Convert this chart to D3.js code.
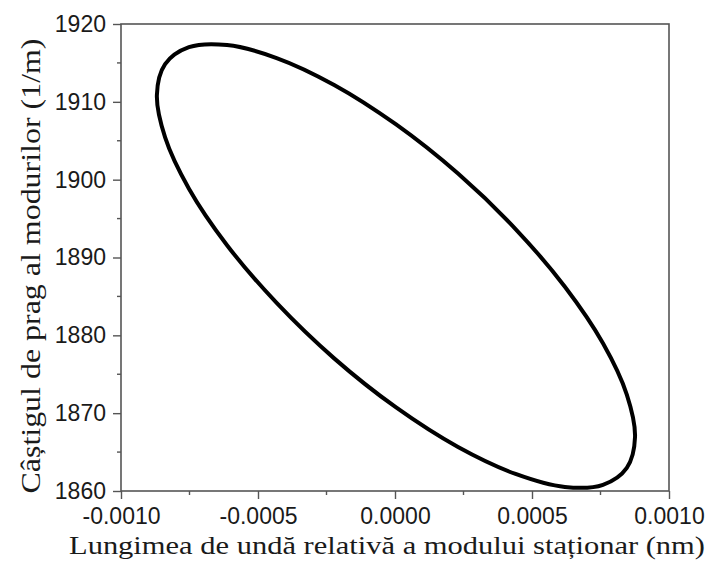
<!DOCTYPE html>
<html>
<head>
<meta charset="utf-8">
<script src="https://cdn.jsdelivr.net/npm/d3@7"></script>
<style>
  body { margin: 0; background: #fff; }
  .tick text { font-family: "Liberation Sans", Arial, sans-serif; font-size: 23px; fill: #1a1a1a; }
  .axis-title { font-family: "Liberation Serif", "Times New Roman", serif; fill: #1a1a1a; }
</style>
</head>
<body>
<svg width="715" height="562"></svg>
<script>
// wavelength offset (x 1e-3 nm) and threshold gain (1/m)
const wavelength = [0.876, 0.846, 0.759, 0.620, 0.440, 0.230, 0.004, -0.222, -0.432, -0.613, -0.752, -0.839,
  -0.869, -0.839, -0.752, -0.613, -0.432, -0.222, 0.004, 0.230, 0.440, 0.620, 0.759, 0.846];
const gain = [1866.94, 1862.98, 1860.80, 1860.52, 1862.19, 1865.65, 1870.73, 1877.04, 1884.16, 1891.58, 1898.84, 1905.43,
  1910.88, 1914.84, 1917.02, 1917.30, 1915.63, 1912.17, 1907.09, 1900.78, 1893.66, 1886.24, 1878.98, 1872.39];

const xTicks = [-0.0010, -0.0005, 0.0000, 0.0005, 0.0010];
const yTicks = [1860, 1870, 1880, 1890, 1900, 1910, 1920];
const xLabel = "Lungimea de undă relativă a modului staționar (nm)";
const yLabel = "Câștigul de prag al modurilor (1/m)";

const svg = d3.select('svg');
const margin = { top: 24, left: 121, right: 46, bottom: 71 };
const width = +svg.attr('width') - margin.left - margin.right;
const height = +svg.attr('height') - margin.top - margin.bottom;

const g = svg.append("g").attr("transform", `translate(${margin.left}, ${margin.top})`);

const x = d3.scaleLinear().domain([-0.001, 0.001]).range([0, width]);
const y = d3.scaleLinear().domain([1860, 1920]).range([height, 0]);

const points = wavelength.map((w, i) => ({ x: w * 1e-3, y: gain[i] }));

// frame
g.append("rect")
    .attr("width", width)
    .attr("height", height)
    .attr("fill", "none")
    .attr("stroke", "#555")
    .attr("stroke-width", 1.6);

// minor ticks
const xMinor = [-0.00075, -0.00025, 0.00025, 0.00075];
const yMinor = [1865, 1875, 1885, 1895, 1905, 1915];
g.selectAll(".xminor").data(xMinor).enter().append("line")
    .attr("x1", d => x(d)).attr("x2", d => x(d))
    .attr("y1", height).attr("y2", height + 4)
    .attr("stroke", "#555").attr("stroke-width", 1.4);
g.selectAll(".yminor").data(yMinor).enter().append("line")
    .attr("x1", -4).attr("x2", 0)
    .attr("y1", d => y(d)).attr("y2", d => y(d))
    .attr("stroke", "#555").attr("stroke-width", 1.4);

const fmtX = d => d3.format(".4f")(d).replace("\u2212", "-");

function customXAxis(sel) {
    sel.call(d3.axisBottom(x).tickValues(xTicks).tickSize(8).tickPadding(9).tickFormat(fmtX));
    sel.select(".domain").remove();
    sel.selectAll(".tick line").attr("stroke", "#555").attr("stroke-width", 1.4);
}
function customYAxis(sel) {
    sel.call(d3.axisLeft(y).tickValues(yTicks).tickSize(8).tickPadding(7).tickFormat(d3.format("d")));
    sel.select(".domain").remove();
    sel.selectAll(".tick line").attr("stroke", "#555").attr("stroke-width", 1.4);
}

g.append("g")
    .attr("transform", "translate(0," + height + ")")
    .call(customXAxis);
g.append("g").call(customYAxis);

const line = d3.line()
    .curve(d3.curveCatmullRomClosed.alpha(0.5))
    .x(d => x(d.x))
    .y(d => y(d.y));

g.append("path")
    .datum(points)
    .attr("d", line)
    .attr("fill", "none")
    .attr("stroke", "#000")
    .attr("stroke-width", 4);

svg.append("text")
    .attr("class", "axis-title")
    .attr("x", 387)
    .attr("y", 554)
    .attr("text-anchor", "middle")
    .style("font-size", "25px")
    .attr("textLength", 636)
    .attr("lengthAdjust", "spacingAndGlyphs")
    .text(xLabel);

svg.append("text")
    .attr("class", "axis-title")
    .attr("transform", "translate(40,266) rotate(-90)")
    .attr("text-anchor", "middle")
    .style("font-size", "27px")
    .attr("textLength", 455)
    .attr("lengthAdjust", "spacingAndGlyphs")
    .text(yLabel);
</script>
</body>
</html>
